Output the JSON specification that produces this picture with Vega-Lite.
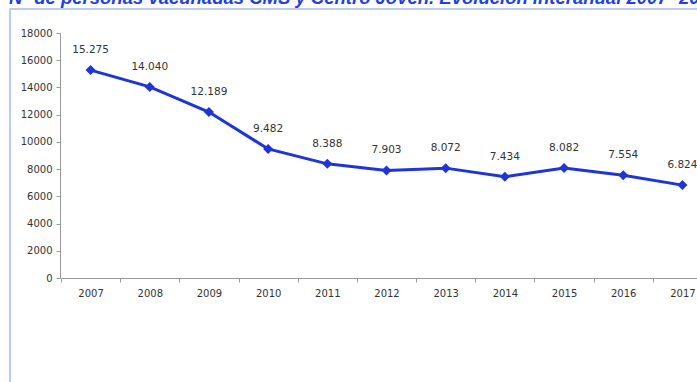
{
  "$schema": "https://vega.github.io/schema/vega-lite/v6.json",
  "autosize": "none",
  "padding": {"left": 10, "top": 9, "right": 0, "bottom": 0},
  "width": 700,
  "height": 380,
  "background": "white",
  "title": {
    "text": "Nº de personas vacunadas CMS y Centro Joven. Evolución interanual 2007- 2017",
    "anchor": "start",
    "baseline": "alphabetic",
    "offset": 0,
    "dy": 13,
    "dx": -1,
    "font": "Liberation Sans",
    "fontSize": 18.5,
    "fontWeight": "bold",
    "fontStyle": "italic",
    "color": "#1f3fe0"
  },
  "config": {
    "locale": {"number": {"decimal": ",", "thousands": ".", "grouping": [3], "currency": ["", "€"]}},
    "view": {"stroke": "#a9bfe3", "strokeWidth": 1.5},
    "axis": {
      "labelFont": "DejaVu Sans",
      "labelFontSize": 10,
      "labelColor": "#333333",
      "domainColor": "#9a9a9a",
      "tickColor": "#9a9a9a",
      "grid": false,
      "title": null
    }
  },
  "data": {
    "values": [
      {"year": "2007", "n": 15275},
      {"year": "2008", "n": 14040},
      {"year": "2009", "n": 12189},
      {"year": "2010", "n": 9482},
      {"year": "2011", "n": 8388},
      {"year": "2012", "n": 7903},
      {"year": "2013", "n": 8072},
      {"year": "2014", "n": 7434},
      {"year": "2015", "n": 8082},
      {"year": "2016", "n": 7554},
      {"year": "2017", "n": 6824}
    ]
  },
  "encoding": {
    "x": {
      "field": "year",
      "type": "ordinal",
      "scale": {"type": "band", "range": [51, 702], "paddingInner": 0, "paddingOuter": 0},
      "axis": {"offset": -111, "labelAngle": 0, "tickBand": "extent", "tickSize": 4, "labelPadding": 6, "domainWidth": 1}
    },
    "y": {
      "field": "n",
      "type": "quantitative",
      "scale": {"domain": [0, 18000], "range": [269, 24], "nice": false},
      "axis": {"offset": -50, "values": [0, 2000, 4000, 6000, 8000, 10000, 12000, 14000, 16000, 18000], "format": "d", "tickSize": 4, "labelPadding": 4}
    }
  },
  "layer": [
    {"mark": {"type": "line", "color": "#1f35d6", "strokeWidth": 3}},
    {"mark": {"type": "point", "shape": "diamond", "filled": true, "size": 100, "opacity": 1, "color": "#1f35d6"}},
    {
      "mark": {"type": "text", "dy": -20, "font": "DejaVu Sans", "fontSize": 10.5, "color": "#333333"},
      "encoding": {"text": {"field": "n", "type": "quantitative", "format": ",d"}}
    }
  ]
}
